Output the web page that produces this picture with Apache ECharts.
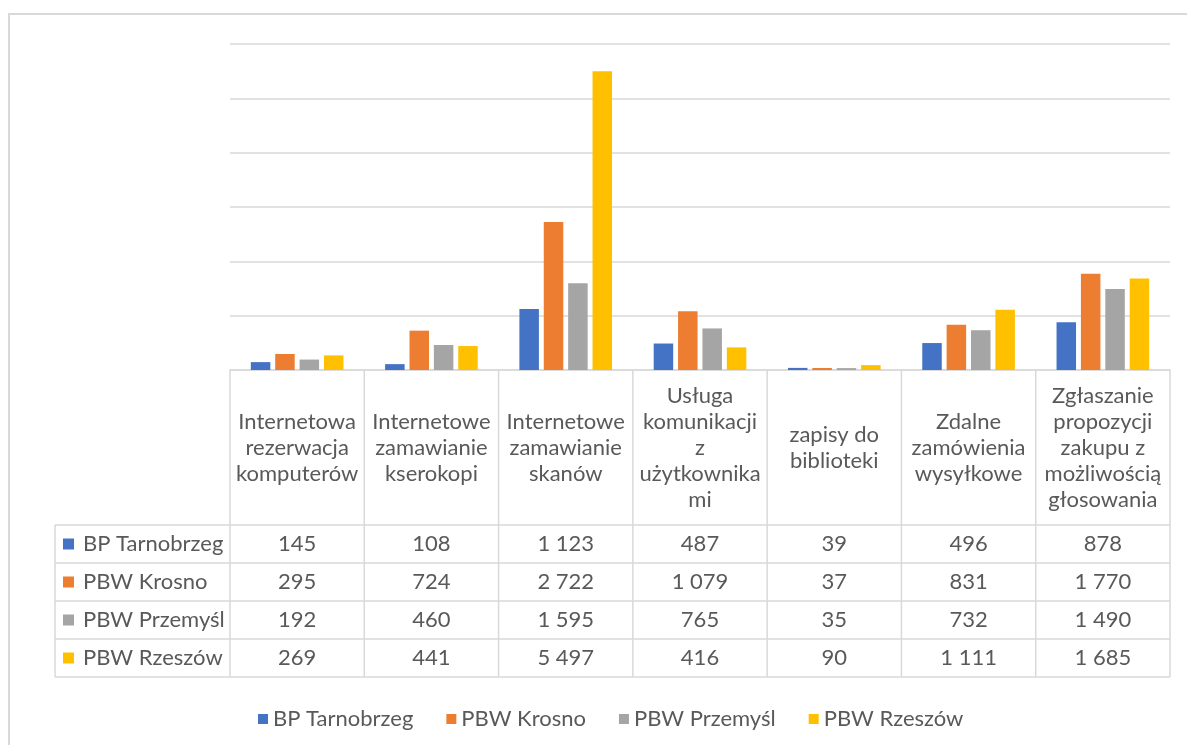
<!DOCTYPE html>
<html>
<head>
<meta charset="utf-8">
<title>Usługi online</title>
<script src="https://cdn.jsdelivr.net/npm/echarts@6/dist/echarts.min.js"></script>
<style>
  html, body { margin: 0; padding: 0; background: #fff; }
  #chart { width: 1187px; height: 745px; }
</style>
</head>
<body>
<div id="chart"></div>
<script>
// dane
var categories = [
  'Internetowa\nrezerwacja\nkomputerów',
  'Internetowe\nzamawianie\nkserokopi',
  'Internetowe\nzamawianie\nskanów',
  'Usługa\nkomunikacji\nz\nużytkownika\nmi',
  'zapisy do\nbiblioteki',
  'Zdalne\nzamówienia\nwysyłkowe',
  'Zgłaszanie\npropozycji\nzakupu z\nmożliwością\ngłosowania'
];
var seriesNames = ['BP Tarnobrzeg', 'PBW Krosno', 'PBW Przemyśl', 'PBW Rzeszów'];
var tarnobrzeg = [145, 108, 1123, 487, 39, 496, 878];
var krosno = [295, 724, 2722, 1079, 37, 831, 1770];
var przemysl = [192, 460, 1595, 765, 35, 732, 1490];
var rzeszow = [269, 441, 5497, 416, 90, 1111, 1685];
var colors = ['#4472C4', '#ED7D31', '#A5A5A5', '#FFC000'];

var rows = [tarnobrzeg, krosno, przemysl, rzeszow];

// układ
var gridLeft = 230, gridRight = 1170, gridTop = 44, gridBottom = 370;
var headerBottom = 525, rowH = 38;
var tableLeft = 55;
var lineColor = '#d9d9d9';
var textColor = '#595959';
var font = 'Lato';
var fontSize = 22;

function fmt(v) {
  return String(v).replace(/\B(?=(\d{3})+(?!\d))/g, ' ');
}

var chart = echarts.init(document.getElementById('chart'));

var xAxes = [{
  type: 'category',
  data: categories,
  position: 'bottom',
  axisLine: { show: true, lineStyle: { color: lineColor, width: 1.5 } },
  axisTick: { show: false },
  axisLabel: {
    interval: 0,
    margin: (gridBottom + headerBottom) / 2 - gridBottom,
    verticalAlign: 'middle',
    lineHeight: 26,
    fontSize: fontSize,
    fontFamily: font,
    color: textColor
  }
}];
rows.forEach(function (vals, k) {
  xAxes.push({
    type: 'category',
    data: categories,
    position: 'bottom',
    offset: 0,
    axisLine: { show: false },
    axisTick: { show: false },
    axisLabel: {
      interval: 0,
      margin: headerBottom + rowH * k + rowH / 2 - gridBottom,
      verticalAlign: 'middle',
      fontSize: fontSize,
      fontFamily: font,
      color: textColor,
      formatter: function (v, i) { return fmt(vals[i]); }
    }
  });
});

// linie tabeli
var graphics = [];
graphics.push({
  type: 'rect', silent: true,
  shape: { x: 9, y: 14, width: 1200, height: 800 },
  style: { fill: 'none', stroke: lineColor, lineWidth: 2 }
});
var colW = (gridRight - gridLeft) / categories.length;
var tableBottom = headerBottom + rowH * rows.length;
for (var i = 0; i <= categories.length; i++) {
  var x = gridLeft + colW * i;
  graphics.push({
    type: 'line', silent: true,
    shape: { x1: x, y1: gridBottom, x2: x, y2: tableBottom },
    style: { stroke: lineColor, lineWidth: 1.5 }
  });
}
graphics.push({
  type: 'line', silent: true,
  shape: { x1: tableLeft, y1: headerBottom, x2: tableLeft, y2: tableBottom },
  style: { stroke: lineColor, lineWidth: 1.5 }
});
for (var r = 0; r <= rows.length; r++) {
  var y = headerBottom + rowH * r;
  graphics.push({
    type: 'line', silent: true,
    shape: { x1: tableLeft, y1: y, x2: gridRight, y2: y },
    style: { stroke: lineColor, lineWidth: 1.5 }
  });
}
seriesNames.forEach(function (name, k) {
  var cy = headerBottom + rowH * k + rowH / 2;
  graphics.push({
    type: 'rect', silent: true,
    shape: { x: 63, y: cy - 5.5, width: 11, height: 11 },
    style: { fill: colors[k] }
  });
  graphics.push({
    type: 'text', silent: true,
    x: 83, y: cy,
    style: {
      text: name, fill: textColor, font: fontSize + 'px ' + font,
      verticalAlign: 'middle', align: 'left'
    }
  });
});

chart.setOption({
  animation: false,
  color: colors,
  grid: {
    left: gridLeft, right: 1187 - gridRight,
    top: gridTop, bottom: 745 - gridBottom,
    containLabel: false
  },
  legend: {
    data: seriesNames,
    left: 253, top: 703,
    icon: 'rect', itemWidth: 10, itemHeight: 10, itemGap: 33,
    textStyle: { fontSize: fontSize, fontFamily: font, color: textColor }
  },
  xAxis: xAxes,
  yAxis: {
    type: 'value',
    min: 0, max: 6000, interval: 1000,
    axisLabel: { show: false },
    axisLine: { show: false },
    axisTick: { show: false },
    splitLine: { lineStyle: { color: lineColor, width: 1.5 } }
  },
  series: rows.map(function (vals, k) {
    return {
      name: seriesNames[k],
      type: 'bar',
      xAxisIndex: 0,
      data: vals,
      barWidth: 19.5,
      barGap: '25%'
    };
  }),
  graphic: graphics
});
</script>
</body>
</html>
